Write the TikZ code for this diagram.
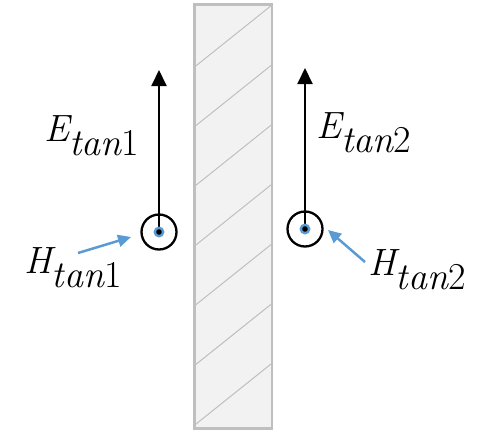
\documentclass[tikz,border=0pt]{standalone}
\usetikzlibrary{arrows.meta}
\definecolor{slabfill}{HTML}{F2F2F2}
\definecolor{slabline}{HTML}{BFBFBF}
\definecolor{hblue}{HTML}{5B9BD5}
\newcommand{\biglbl}[2]{{\fontsize{38}{42}\selectfont\itshape #1\raisebox{-14pt}{tan\upshape #2}}}
\tikzset{
  slab/.style={draw=slabline, line width=2.5pt, fill=slabfill},
  hatchline/.style={draw=slabline, line width=1pt},
  earrow/.style={line width=2pt, -{Triangle[length=16pt,width=15pt]}},
  harrow/.style={draw=hblue, line width=2.5pt, -{Triangle[length=13pt,width=12pt]}},
  ring/.style={circle, draw=black, line width=2.3pt, minimum size=35pt, inner sep=0pt},
  lbl/.style={inner sep=0pt, anchor=base west},
}
\begin{document}
\begin{tikzpicture}[x=1pt,y=-1pt]
\useasboundingbox (0,0) rectangle (494,431);
% slab
\path[slab] (194.5,4.5) rectangle (272,428.5);
\begin{scope}
\clip (195.7,5.7) rectangle (270.8,427.3);
\foreach \k in {0,...,6}{
  \draw[hatchline] (194.5,{5+\k*59.7+62}) -- (272,{5+\k*59.7});
}
\end{scope}
% field points
\node[ring] (c1) at (159,232) {};
\node[ring] (c2) at (305,229) {};
\coordinate (t1) at (159,70);
\coordinate (t2) at (305,68);
\draw[earrow] (c1.center) -- (t1);
\draw[earrow] (c2.center) -- (t2);
\fill[hblue] (c1.center) circle (5.5pt);
\fill[black] (c1.center) circle (2.8pt);
\fill[hblue] (c2.center) circle (5.5pt);
\fill[black] (c2.center) circle (2.8pt);
% labels
\node[lbl] (e1) at (44,141) {\biglbl{E}{1}};
\node[lbl] (e2) at (316,138) {\biglbl{E}{2}};
\node[lbl] (h1) at (24,273) {\biglbl{H}{1}};
\node[lbl] (h2) at (368,275) {\biglbl{H}{2}};
% H pointers
\coordinate (p1s) at (78,253);
\coordinate (p1e) at (131,237);
\coordinate (p2s) at (365,262);
\coordinate (p2e) at (328,230);
\draw[harrow] (p1s) -- (p1e);
\draw[harrow] (p2s) -- (p2e);
\end{tikzpicture}
\end{document}
